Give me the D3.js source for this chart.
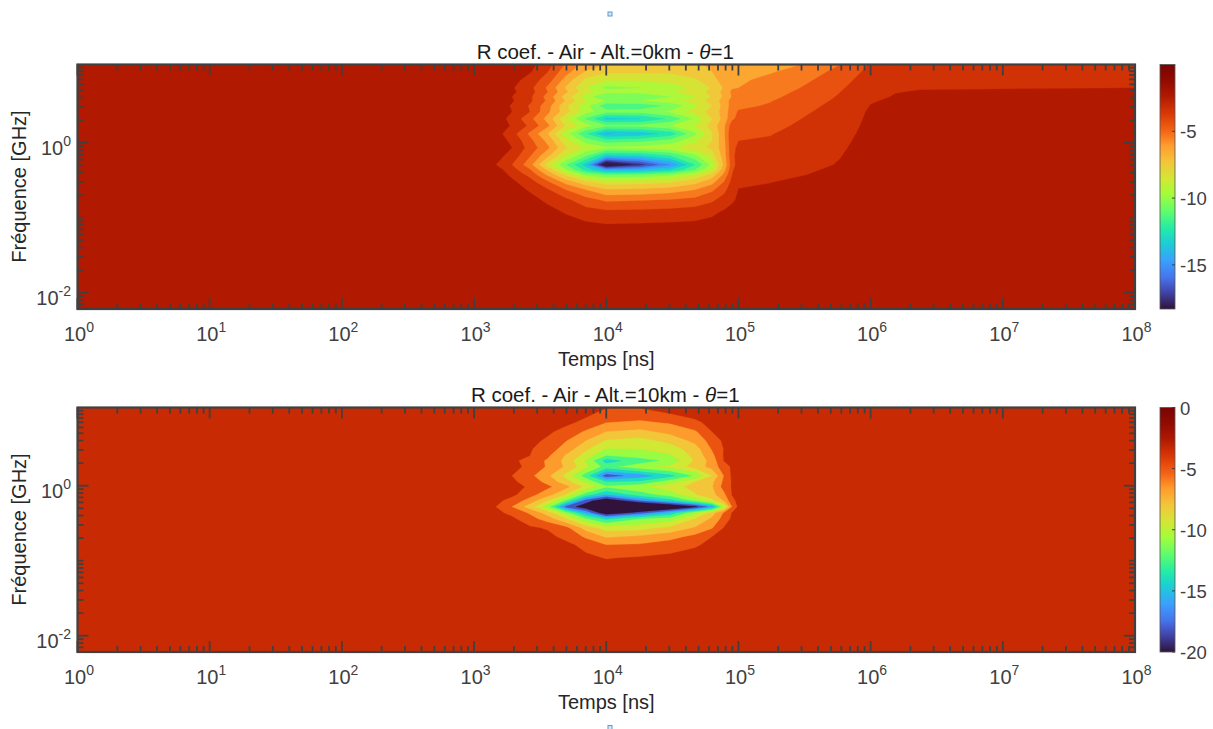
<!DOCTYPE html>
<html><head><meta charset="utf-8">
<script src="https://cdnjs.cloudflare.com/ajax/libs/d3/7.8.5/d3.min.js"></script>
<style>html,body{margin:0;background:#fff}svg{display:block;font-family:"Liberation Sans",Arial,sans-serif}</style>
</head><body><svg id="c" width="1213" height="729"></svg>
<script>
// Time samples, log10(ns)
const logTimes0 = [0,3.045,3.166,3.287,3.423,3.559,3.695,3.847,4,4.255,4.482,4.671,4.799,4.89,4.951,5,5.239,5.466,5.768,5.882,6,6.184,6.373,8];
const logTimes10 = [0,3.045,3.166,3.287,3.423,3.559,3.695,3.847,4,4.255,4.482,4.671,4.799,4.89,4.951,5,8];
// Frequency samples, log10(GHz), top row first
const logFreqs0 = [1.04,.947,.84,.733,.68,.613,.56,.493,.413,.32,.227,.12,.027,-.067,-.173,-.293,-.36,-.427,-.52,-.627,-.76,-.92,-1.093,-2.213];
const logFreqs10 = [1.04,.96,.84,.72,.6,.493,.4,.333,.253,.133,.053,-.013,-.12,-.2,-.28,-.36,-.44,-.56,-.68,-.787,-.96,-1.12,-2.213];
// R coefficient [dB], Alt.=0km
const coef0km = [
[-1,-1.1,-1.2,-1.5,-2.1,-3,-4.5,-5.8,-6.4,-6.5,-6.6,-6.5,-6.3,-6,-5.9,-5.9,-5.7,-5.4,-4.4,-3.85,-3.3,-3,-2.8,-2.8],
[-1,-1.1,-1.3,-1.7,-2.3,-3.4,-5,-6.5,-7.2,-7.2,-7.2,-6.9,-6.4,-5.8,-5.7,-5.7,-5.5,-5,-4.1,-3.6,-3.1,-2.85,-2.7,-2.7],
[-1,-1.1,-1.5,-2,-2.8,-3.9,-5.8,-7.6,-8.2,-8.2,-8,-7.5,-6.8,-5.9,-5.5,-5.6,-5.1,-4.7,-3.8,-3.35,-2.95,-2.68,-2.55,-2.55],
[-1,-1.2,-1.6,-2.3,-3.1,-4.6,-6.5,-8.3,-9.6,-9.4,-8.8,-8.2,-7.3,-6.3,-5.5,-5.4,-4.9,-4.4,-3.55,-3.1,-2.75,-2.5,-2.43,-2.4],
[-1,-1.2,-1.6,-2.2,-3,-4.4,-6.2,-8,-9,-9,-8.5,-7.9,-7.1,-6.1,-5.2,-5.2,-4.8,-4.25,-3.42,-3,-2.65,-2.42,-2.37,-2.3],
[-1,-1.3,-1.7,-2.4,-3.2,-4.8,-6.9,-8.8,-10.4,-10.2,-9.4,-8.4,-7.3,-6.2,-5.3,-5,-4.6,-4.1,-3.3,-2.88,-2.55,-2.36,-2.3,-2.2],
[-1,-1.3,-1.7,-2.3,-3.2,-4.6,-6.5,-8.3,-9.4,-9.4,-8.8,-8,-7,-6,-5,-4.8,-4.45,-3.95,-3.2,-2.78,-2.45,-2.3,-2.2,-2.1],
[-1,-1.4,-1.8,-2.5,-3.5,-5,-7.2,-9,-11,-10.9,-10.2,-8.6,-7.4,-6,-5,-4.6,-4.3,-3.8,-3.05,-2.68,-2.38,-2.25,-2.1,-2],
[-1,-1.4,-1.8,-2.4,-3.4,-5.2,-7,-9,-10,-10,-9.2,-8,-7,-6,-4.8,-4.3,-4.1,-3.6,-2.95,-2.6,-2.3,-2.2,-2,-2],
[-1,-1.5,-1.9,-2.7,-4.1,-5.8,-8.2,-10.5,-12.7,-12.4,-11.2,-9.2,-7.4,-6,-4.6,-4.1,-3.9,-3.42,-2.85,-2.52,-2.28,-2.15,-2,-2],
[-1,-1.4,-1.8,-2.5,-3.6,-5.2,-7.5,-9,-10,-10,-9.4,-8.4,-7,-5.6,-3.8,-3.9,-3.7,-3.25,-2.75,-2.46,-2.26,-2.1,-2,-2],
[-1,-1.5,-2,-3,-4.6,-6.4,-8.9,-11.3,-13.5,-13,-12,-9.6,-7.5,-5.6,-3.5,-3.65,-3.45,-3.1,-2.65,-2.41,-2.25,-2.05,-2,-2],
[-1,-1.5,-1.9,-2.6,-4.1,-5.7,-8,-9.8,-10.8,-10.6,-10,-8.6,-7.4,-5.7,-3.5,-3.4,-3.3,-3,-2.55,-2.36,-2.2,-2,-2,-2],
[-1,-1.4,-1.8,-2.4,-3.8,-5.2,-7.3,-8.6,-9.2,-9,-8.6,-7.8,-7.2,-5.8,-3.6,-3.25,-3.2,-2.9,-2.48,-2.32,-2.2,-2,-2,-2],
[-1,-1.6,-2,-2.8,-4.3,-6.2,-8.3,-10.2,-12.6,-12.4,-11.4,-9.6,-7.9,-5.9,-3.6,-3.1,-3,-2.75,-2.42,-2.28,-2.2,-2,-2,-2],
[-1,-1.8,-2.4,-3.4,-5,-7.8,-10.3,-12.8,-19,-16.8,-14.4,-11.4,-9,-6.2,-3.8,-3,-2.85,-2.6,-2.36,-2.24,-2.15,-2,-2,-2],
[-1,-1.6,-1.9,-3,-4.3,-6.6,-9.3,-11.8,-13.6,-13.3,-12.4,-10.4,-8.4,-5.8,-3.6,-2.7,-2.75,-2.5,-2.3,-2.2,-2.1,-2,-2,-2],
[-1,-1.5,-1.8,-2.6,-3.7,-5.6,-7.6,-9.6,-10.2,-10.1,-9.6,-8.4,-7,-5.2,-3.4,-2.6,-2.6,-2.43,-2.25,-2.18,-2.1,-2,-2,-2],
[-1,-1.4,-1.7,-2.2,-3,-4.3,-5.8,-7.2,-8,-7.9,-7.6,-6.8,-5.8,-4.4,-3.1,-2.5,-2.42,-2.3,-2.2,-2.15,-2.05,-2,-2,-2],
[-1,-1.3,-1.6,-2,-2.5,-3.3,-4.4,-5.4,-6.3,-6.2,-5.9,-5.4,-4.6,-3.7,-2.8,-2.38,-2.3,-2.2,-2.15,-2.1,-2,-2,-2,-2],
[-1,-1.3,-1.5,-1.8,-2.1,-2.6,-3.2,-4,-4.6,-4.5,-4.35,-4.1,-3.6,-3,-2.5,-2.3,-2.2,-2.1,-2.1,-2.05,-2,-2,-2,-2],
[-1,-1.2,-1.5,-1.7,-1.9,-2.1,-2.5,-3,-3.2,-3.15,-3.05,-2.9,-2.6,-2.3,-2.2,-2.2,-2.1,-2.05,-2.05,-2.02,-2,-2,-2,-2],
[-1,-1.2,-1.4,-1.5,-1.7,-1.8,-2,-2.2,-2.35,-2.3,-2.25,-2.2,-2.1,-2,-2,-2,-2,-2,-2,-2,-2,-2,-2,-2],
[-1,-1,-1,-1,-1,-1,-1,-1,-1.4,-1.4,-1.4,-1.4,-1.4,-1.4,-1.4,-1.4,-1.4,-1.4,-1.4,-1.4,-1.4,-1.4,-1.4,-1.4]
];
// R coefficient [dB], Alt.=10km
const coef10km = [
[-1,-1,-1,-1,-1,-1.1,-1.2,-1.4,-1.9,-1.9,-1.5,-1.3,-1.1,-1,-1,-1,-1],
[-1,-1,-1,-1,-1,-1.2,-1.4,-1.6,-2.6,-2.8,-2,-1.5,-1.3,-1.1,-1,-1,-1],
[-1,-1,-1,-1,-1.1,-1.3,-1.6,-2.5,-4,-4.4,-3.8,-2.3,-1.6,-1.3,-1.1,-1,-1],
[-1,-1,-1,-1.1,-1.3,-1.7,-2.6,-4.3,-6,-6.5,-5.4,-4.3,-2,-1.5,-1.2,-1,-1],
[-1,-1,-1,-1.2,-1.5,-2.3,-3.9,-6,-8.2,-8.7,-7.4,-5.4,-3.2,-1.6,-1.3,-1,-1],
[-1,-1,-1.1,-1.3,-1.8,-3,-4.8,-7.6,-10,-9.9,-9,-6.9,-3.8,-1.9,-1.4,-1,-1],
[-1,-1,-1.1,-1.4,-2,-3.7,-6.2,-8.9,-12,-11,-10.2,-7.4,-4.6,-1.8,-1.4,-1,-1],
[-1,-1,-1.2,-1.5,-2.8,-4.3,-6.6,-10.2,-14.8,-13,-11.4,-7.7,-5.2,-1.9,-1.5,-1,-1],
[-1,-1,-1.2,-1.5,-2.4,-4.3,-6.3,-9.5,-12.8,-10.5,-9.5,-7.2,-5.2,-2.9,-1.7,-1,-1],
[-1,-1.1,-1.3,-2,-3.5,-5.6,-8.6,-13,-19,-17,-14.6,-11.6,-8,-3.9,-1.6,-1,-1],
[-1,-1,-1.2,-1.6,-2.9,-4.6,-7.2,-10.4,-14,-13.5,-10.8,-8,-6.4,-3.6,-1.8,-1,-1],
[-1,-1,-1.2,-1.5,-2.2,-3.6,-5.3,-8.6,-11.5,-10.4,-8.9,-7.3,-6.2,-3.2,-1.8,-1,-1],
[-1,-1,-1.2,-1.5,-3.3,-5.2,-8.2,-13,-16,-13,-11,-8.2,-6.7,-4.5,-1.9,-1.1,-1],
[-1,-1.1,-1.4,-2.8,-4.8,-8,-12.2,-19,-22,-18,-15,-11.5,-8.6,-5.8,-2.6,-1.4,-1],
[-1,-1.2,-2,-4,-7,-11,-18.5,-21.5,-26,-25,-23,-20.5,-17,-10,-4,-1.5,-1],
[-1,-1.1,-1.5,-2.5,-4.3,-7,-11,-16.4,-22,-19,-15.5,-10.5,-7,-3.8,-1.9,-1.2,-1],
[-1,-1,-1.3,-1.6,-3.2,-5,-7.8,-11.7,-14.5,-12,-11,-8,-5.6,-3.2,-1.6,-1.1,-1],
[-1,-1,-1.2,-1.3,-1.7,-2.2,-3.4,-6.9,-9,-8.8,-7.5,-5.8,-4.2,-1.9,-1.4,-1,-1],
[-1,-1,-1.1,-1.2,-1.3,-1.5,-2.5,-4.3,-6.2,-5.6,-4.7,-3.4,-2,-1.4,-1.2,-1,-1],
[-1,-1,-1.1,-1.1,-1.2,-1.3,-1.5,-2.6,-4,-3.8,-3,-2.2,-1.6,-1.2,-1.1,-1,-1],
[-1,-1,-1,-1,-1.1,-1.2,-1.3,-1.6,-2.1,-1.8,-1.5,-1.3,-1.2,-1.1,-1,-1,-1],
[-1,-1,-1,-1,-1,-1,-1,-1,-1.2,-1.2,-1.1,-1,-1,-1,-1,-1,-1],
[-1,-1,-1,-1,-1,-1,-1,-1,-1,-1,-1,-1,-1,-1,-1,-1,-1]
];
// Contour levels [dB] and turbo position of every band (first entry = background band)
const levels0 = [-2.4,-3.4,-4.4,-5.4,-6.4,-7.4,-8.4,-9.4,-10.4,-11.4,-12.4,-13.4,-14.4,-15.4,-16.4,-17.4];
const bandT0 = [.87,.815,.76,.705,.65,.595,.54,.485,.43,.375,.32,.26,.205,.15,.095,.04,.01];
const levels10 = [-2,-4,-6,-8,-10,-12,-14,-16,-18,-20];
const bandT10 = [.83,.755,.67,.6,.53,.46,.37,.29,.2,.09,0];
const turboPos = [0,.07,.13,.2,.27,.33,.4,.47,.53,.6,.67,.73,.8,.87,.93,1];
const turboHex = ["#30123b","#4145ab","#4675ed","#39a2fc","#1bcfd4","#24eca6","#61fc6c","#a4fc3b","#d1e834","#f3c63a","#fe9b2d","#f36315","#d93806","#b11901","#930c01","#7a0403"];
const xTickExps = [0,1,2,3,4,5,6,7,8];
const yTickExps = [-2,0];
const cbarTicks0 = [-5,-10,-15];
const cbarTicks10 = [0,-5,-10,-15,-20];
const cbarDomain0 = [-18.3,0];
const cbarDomain10 = [-20,0];
const titles = ["R coef. - Air - Alt.=0km - ","R coef. - Air - Alt.=10km - "];
const xLabel = "Temps [ns]", yLabel = "Fréquence [GHz]";

const svg = d3.select("#c");
const turbo = d3.scaleLinear().domain(turboPos).range(turboHex).interpolate(d3.interpolateRgb);
const dark = "#404040";
const X0 = 77.5, X1 = 1135, CB0 = 1160, CB1 = 1175;
const x = d3.scaleLog().domain([1,1e8]).range([X0,X1]);

const defs = svg.append("defs");
const grad = defs.append("linearGradient").attr("id","turboGrad").attr("x1",0).attr("x2",0).attr("y1",1).attr("y2",0);
turboPos.forEach((p,i)=>grad.append("stop").attr("offset",p).attr("stop-color",turboHex[i]));

function expLabel(g,xp,yp,exp,anchor,size){
  const t = g.append("text").attr("x",xp).attr("y",yp).attr("text-anchor",anchor).attr("fill",dark).attr("font-size",size);
  t.append("tspan").text("10");
  t.append("tspan").attr("font-size",size*0.7).attr("dy",-9.5).text(exp);
}

function panel(i,top,times,freqs,rows,levels,bandT,cbarDomain,cbarTicks){
  const bottom = top+244.5;
  const y = d3.scaleLog().domain([Math.pow(10,-2.217),Math.pow(10,1.043)]).range([bottom,top]);
  const g = svg.append("g");
  const clipId = "clip"+i;
  defs.append("clipPath").attr("id",clipId).append("rect").attr("x",X0).attr("y",top).attr("width",X1-X0).attr("height",bottom-top);

  const n = times.length, m = freqs.length;
  const ix = d3.scaleLinear().domain(d3.range(n)).range(times.map(t=>x(Math.pow(10,t)))).clamp(true);
  const iy = d3.scaleLinear().domain(d3.range(m)).range(freqs.map(f=>y(Math.pow(10,f)))).clamp(true);
  const proj = d3.geoTransform({point(a,b){this.stream.point(ix(a-.5),iy(b-.5));}});
  const path = d3.geoPath(proj);
  const flat = rows.flat().map(v=>-v);
  const bands = d3.contours().size([n,m]).smooth(true).thresholds(levels.map(l=>-l))(flat);

  const plot = g.append("g").attr("clip-path",`url(#${clipId})`);
  plot.append("rect").attr("x",X0).attr("y",top).attr("width",X1-X0).attr("height",bottom-top).attr("fill",turbo(bandT[0]));
  plot.selectAll("path").data(bands).join("path").attr("d",path)
    .attr("fill",(d,k)=>turbo(bandT[k+1])).attr("stroke",(d,k)=>turbo(bandT[k+1])).attr("stroke-width",.3);

  // ticks on all four sides
  const ticks = g.append("g").attr("stroke",dark).attr("stroke-width",1.8).attr("fill","none");
  const tick = (x1,y1,x2,y2)=>ticks.append("line").attr("x1",x1).attr("y1",y1).attr("x2",x2).attr("y2",y2);
  const majL=11, minL=6;
  for(let e=0;e<8;e++) for(let k=2;k<10;k++){
    const v=k*Math.pow(10,e);
    tick(x(v),top,x(v),top+minL); tick(x(v),bottom,x(v),bottom-minL);
  }
  xTickExps.forEach(e=>{const v=Math.pow(10,e); tick(x(v),top,x(v),top+majL); tick(x(v),bottom,x(v),bottom-majL);});
  for(let e=-3;e<2;e++) for(let k=1;k<10;k++){
    const v=k*Math.pow(10,e);
    const p=y(v);
    if(p<top||p>bottom) continue;
    const major = k===1 && yTickExps.includes(e);
    const L = major?majL:minL;
    tick(X0,p,X0+L,p); tick(X1,p,X1-L,p);
  }
  g.append("rect").attr("x",X0).attr("y",top).attr("width",X1-X0).attr("height",bottom-top)
    .attr("fill","none").attr("stroke",dark).attr("stroke-width",2.2);

  xTickExps.forEach(e=>expLabel(g,x(Math.pow(10,e))+1.5,top+276.5,e,"middle",20));
  yTickExps.forEach(e=>expLabel(g,71,y(Math.pow(10,e))+12.5,e,"end",20));

  g.append("text").attr("x",(X0+X1)/2).attr("y",top+301.5).attr("text-anchor","middle").attr("font-size",20).attr("fill","#262626").text(xLabel);
  g.append("text").attr("transform",`translate(26,${top+122}) rotate(-90)`).attr("text-anchor","middle").attr("font-size",20).attr("fill","#262626").text(yLabel);
  const tt = g.append("text").attr("x",(X0+X1)/2-1).attr("y",top-6).attr("text-anchor","middle").attr("font-size",20.5).attr("fill","#1a1a1a");
  tt.append("tspan").text(titles[i]);
  tt.append("tspan").attr("font-style","italic").text("θ");
  tt.append("tspan").text("=1");

  // colour bar
  const cb = d3.scaleLinear().domain(cbarDomain).range([bottom,top]);
  g.append("rect").attr("x",CB0).attr("y",top).attr("width",CB1-CB0).attr("height",bottom-top).attr("fill","url(#turboGrad)").attr("stroke","#555").attr("stroke-width",.8);
  cbarTicks.forEach(v=>{
    g.append("line").attr("x1",CB1-3).attr("x2",CB1).attr("y1",cb(v)).attr("y2",cb(v)).attr("stroke",dark).attr("stroke-width",1);
    g.append("text").attr("x",1180).attr("y",cb(v)+7).attr("font-size",18.5).attr("fill",dark).text(v);
  });
}
panel(0,64.5,logTimes0,logFreqs0,coef0km,levels0,bandT0,cbarDomain0,cbarTicks0);
panel(1,407.5,logTimes10,logFreqs10,coef10km,levels10,bandT10,cbarDomain10,cbarTicks10);

[[608,12],[608,725.5]].forEach(p=>svg.append("rect").attr("x",p[0]).attr("y",p[1]).attr("width",4).attr("height",4)
  .attr("fill","#d6e8f7").attr("stroke","#5b9bd5").attr("stroke-width",1));
</script></body></html>
